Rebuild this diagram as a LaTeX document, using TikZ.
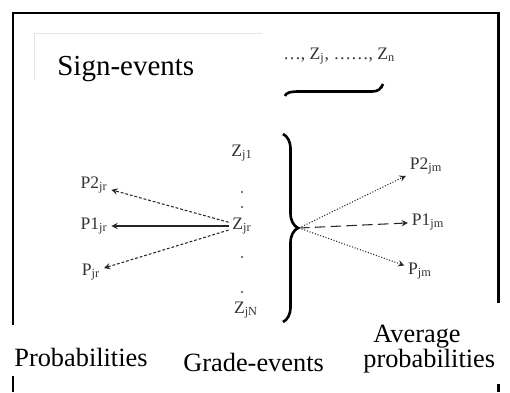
\documentclass[tikz,border=0pt]{standalone}
\usepackage{fontspec}
\setmainfont{Liberation Serif}
\usetikzlibrary{arrows, positioning, decorations.pathreplacing}

\begin{document}
\begin{tikzpicture}[
			x=0.02cm, y=-0.02cm,
			% Define styles
			frame/.style={draw=black, line width=1.7pt},
			caption/.style={font=\fontsize{15}{17}\selectfont, inner sep=0pt, anchor=base west},
			event/.style={font=\fontsize{10}{12}\selectfont, text=black!80, inner sep=2pt},
			gdot/.style={circle, fill=black!70, inner sep=0pt, minimum size=1.3pt},
			connector/.style={->, >=stealth, line width=0.6pt, draw=black!85},
			fine/.style={dash pattern=on 1.6pt off 1.1pt},
			longdash/.style={dash pattern=on 6pt off 3pt}
			]
			\useasboundingbox (0,0) rectangle (510,392);
			
			% Outer frame, open at the bottom captions
			\draw[frame] (13,325) -- (13,13) -- (498,13) -- (498,303);
			\draw[frame] (13,376) -- (13,392);
			\draw[frame] (498,384) -- (498,392);
			\draw[gray!20, line width=0.4pt] (34,80) -- (34,33) -- (262,33);
			
			% Sign-events
			\node[caption, font=\fontsize{16.5}{18}\selectfont] (sign) at (57,75) {Sign-events};
			\node[event, anchor=base west, inner sep=0pt] (zlist) at (283,59) {\ldots, Z\textsubscript{j}, \ldots\ldots, Z\textsubscript{n}};
			\draw[line width=1.5pt] (285,96) .. controls (286,93) and (289,91.5) .. (300,91.5) -- (372,91.5) .. controls (378,91.5) and (381,89) .. (383,84);
			
			% Grade-events
			\node[event] (zone) at (242,153) {Z\textsubscript{j1}};
			\node[event] (zr) at (242,226) {Z\textsubscript{jr}};
			\node[event] (zn) at (246,310) {Z\textsubscript{jN}};
			\node[gdot] (d1) at (242,192) {};
			\node[gdot] (d2) at (242,207) {};
			\node[gdot] (d3) at (242,257) {};
			\node[gdot] (d4) at (242,292) {};
			
			% Brace round the grade-events
			\draw[line width=1.5pt, decorate, decoration={brace, amplitude=0.3cm}] (283,134) -- (283,322);
			\coordinate (cusp) at (299,228);
			
			% Probabilities
			\node[event] (ptwor) at (94,185) {P2\textsubscript{jr}};
			\node[event] (poner) at (94,226) {P1\textsubscript{jr}};
			\node[event] (pr) at (91,272) {P\textsubscript{jr}};
			
			% Average probabilities
			\node[event] (ptwom) at (426,166) {P2\textsubscript{jm}};
			\node[event] (ponem) at (428,222) {P1\textsubscript{jm}};
			\node[event] (pm) at (420,271) {P\textsubscript{jm}};
			
			% Connections from the grade-event
			\draw[connector, fine] (zr) -- (ptwor);
			\draw[connector] (zr) -- (poner);
			\draw[connector, fine] (zr) -- (pr);
			\draw[connector, densely dotted] (cusp) -- (ptwom);
			\draw[connector, longdash] (cusp) -- (ponem);
			\draw[connector, densely dotted] (cusp) -- (pm);
			
			% Captions
			\node[caption] (probs) at (14,366) {Probabilities};
			\node[caption] (grades) at (183,371) {Grade-events};
			\node[caption] (avgone) at (373,342) {Average};
			\node[caption] (avgtwo) at (363,367) {probabilities};
			
		\end{tikzpicture}
\end{document}
